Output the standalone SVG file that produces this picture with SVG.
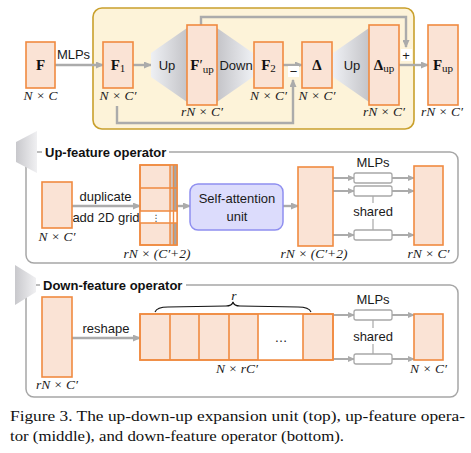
<svg xmlns="http://www.w3.org/2000/svg" width="471" height="453" viewBox="0 0 471 453">
<style>
.box{fill:#fae3d5;stroke:#f08a40;stroke-width:1.6}
.mlp{fill:#ffffff;stroke:#a8a8a8;stroke-width:1.3}
.arr{fill:none;stroke:#ababab;stroke-width:2.4;marker-end:url(#ah)}
.arr2{fill:none;stroke:#ababab;stroke-width:2;marker-end:url(#ah2)}
.thin{fill:none;stroke:#a8a8a8;stroke-width:1.2}
.panel{fill:#ffffff;stroke:#a6a6a6;stroke-width:1.5}
.sans{font-family:"Liberation Sans",Arial,sans-serif;font-size:13px;fill:#1a1a1a}
.title{font-family:"Liberation Sans",Arial,sans-serif;font-size:13px;font-weight:bold;fill:#111}
.math{font-family:"Liberation Serif","Times New Roman",serif;font-size:13.5px;font-style:italic;fill:#1a1a1a}
.bf{font-family:"Liberation Serif","Times New Roman",serif;font-size:15px;font-weight:bold;fill:#111}
.sub{font-family:"Liberation Serif","Times New Roman",serif;font-size:11px;font-weight:normal;font-style:normal}
.cap{font-family:"Liberation Serif","Times New Roman",serif;font-size:15px;fill:#111}
</style>
<defs>
<marker id="ah" markerUnits="userSpaceOnUse" markerWidth="8" markerHeight="7" refX="7" refY="3.5" orient="auto"><path d="M0,0 L8,3.5 L0,7 z" fill="#ababab"/></marker>
<marker id="ah2" markerUnits="userSpaceOnUse" markerWidth="7" markerHeight="6" refX="6" refY="3" orient="auto"><path d="M0,0 L7,3 L0,6 z" fill="#ababab"/></marker>
<linearGradient id="gUp" x1="0" y1="0" x2="1" y2="0"><stop offset="0" stop-color="#eef0f4"/><stop offset="1" stop-color="#c4c4c8"/></linearGradient>
<linearGradient id="gDown" x1="0" y1="0" x2="1" y2="0"><stop offset="0" stop-color="#c4c4c8"/><stop offset="1" stop-color="#eef0f4"/></linearGradient>
<linearGradient id="gIcon" x1="0" y1="0" x2="1" y2="0"><stop offset="0" stop-color="#c8c8cc"/><stop offset="1" stop-color="#f0f0f2"/></linearGradient>
</defs>

<!-- ===== Top: up-down-up expansion unit ===== -->
<rect x="93" y="8" width="321" height="121" rx="9" fill="#fdf3d9" stroke="#c9a02c" stroke-width="1.6"/>

<g id="connectors-top">
<path class="arr" d="M55,65 H103"/>
<path class="arr" d="M133,65 H151"/>
<path class="arr" d="M283,65 H302"/>
<path class="arr" d="M399,65 H428"/>
<path class="arr" d="M201,25 V17 H406 V47"/>
<path class="arr" d="M117,106 V123 H293 V80"/>
<rect x="401" y="49" width="11" height="12" fill="#ffffff"/>
<text x="406" y="60" text-anchor="middle" class="sans" font-size="14">+</text>
<rect x="288" y="66" width="11" height="11" fill="#ffffff"/>
<text x="293.5" y="76" text-anchor="middle" class="sans" font-size="14">−</text>
<text x="73.5" y="59" text-anchor="middle" class="sans">MLPs</text>
</g>

<g id="up1"><polygon points="151,53 187,28 187,102 151,77" fill="url(#gUp)"/><text x="167" y="70" text-anchor="middle" class="sans">Up</text></g>
<g id="down1"><polygon points="217,28 253,53 253,77 217,102" fill="url(#gDown)"/><text x="236" y="70" text-anchor="middle" class="sans">Down</text></g>
<g id="up2"><polygon points="333,53 369,28 369,102 333,77" fill="url(#gUp)"/><text x="352" y="70" text-anchor="middle" class="sans">Up</text></g>

<g id="nodeF"><rect class="box" x="26" y="42" width="29" height="46"/><text x="40.5" y="70" text-anchor="middle" class="bf">F</text><text x="40.5" y="100" text-anchor="middle" class="math">N × C</text></g>
<g id="nodeF1"><rect class="box" x="103" y="42" width="30" height="46"/><text x="118" y="70" text-anchor="middle" class="bf">F<tspan class="sub" dy="2">1</tspan></text><text x="118" y="100" text-anchor="middle" class="math">N × C′</text></g>
<g id="nodeFup1"><rect class="box" x="187" y="25" width="30" height="80"/><text x="202" y="70" text-anchor="middle" class="bf">F<tspan font-weight="normal">′</tspan><tspan class="sub" dy="3">up</tspan></text><text x="202" y="116" text-anchor="middle" class="math">rN × C′</text></g>
<g id="nodeF2"><rect class="box" x="254" y="42" width="29" height="46"/><text x="268.5" y="70" text-anchor="middle" class="bf">F<tspan class="sub" dy="2">2</tspan></text><text x="268.5" y="100" text-anchor="middle" class="math">N × C′</text></g>
<g id="nodeDelta"><rect class="box" x="302" y="42" width="30" height="46"/><text x="317" y="70" text-anchor="middle" class="bf">Δ</text><text x="317" y="100" text-anchor="middle" class="math">N × C′</text></g>
<g id="nodeDeltaUp"><rect class="box" x="369" y="25" width="30" height="80"/><text x="384" y="70" text-anchor="middle" class="bf">Δ<tspan class="sub" dy="2">up</tspan></text><text x="384" y="116" text-anchor="middle" class="math">rN × C′</text></g>
<g id="nodeFup"><rect class="box" x="428" y="25" width="30" height="80"/><text x="443" y="70" text-anchor="middle" class="bf">F<tspan class="sub" dy="2">up</tspan></text><text x="442" y="116" text-anchor="middle" class="math">rN × C′</text></g>

<!-- ===== Middle: up-feature operator ===== -->
<rect class="panel" x="26" y="152" width="432" height="111" rx="8"/>
<polygon points="16,142 37,131 37,173 16,162" fill="url(#gIcon)"/>
<rect x="42" y="144" width="127" height="16" fill="#ffffff"/>
<text x="45" y="157" class="title">Up-feature operator</text>

<g id="connectors-mid">
<path class="arr" d="M72,206 H140"/>
<path class="arr" d="M177,206 H190"/>
<path class="arr" d="M283,206 H298"/>
<path class="arr2" d="M333,178 H354"/>
<path class="arr2" d="M333,191 H354"/>
<path class="arr2" d="M333,235 H354"/>
<path class="arr2" d="M392,178 H414"/>
<path class="arr2" d="M392,191 H414"/>
<path class="arr2" d="M392,235 H414"/>
<path class="thin" d="M373,196 V203 M373,219 V230"/>
<text x="105.5" y="201" text-anchor="middle" class="sans">duplicate</text>
<text x="106" y="222" text-anchor="middle" class="sans">add 2D grid</text>
<text x="373" y="167" text-anchor="middle" class="sans">MLPs</text>
<text x="373" y="216" text-anchor="middle" class="sans">shared</text>
</g>

<g id="nodeIn"><rect class="box" x="42" y="182" width="30" height="46"/><text x="57" y="241" text-anchor="middle" class="math">N × C′</text></g>
<g id="nodeStack">
<rect class="box" x="140" y="165" width="37" height="80"/>
<rect x="140" y="211" width="37" height="12" fill="#ffffff"/>
<rect x="170" y="165" width="3.5" height="46" fill="#d2c6c0"/><rect x="173.5" y="165" width="3.5" height="46" fill="#a6a6a6"/>
<rect x="170" y="223" width="3.5" height="22" fill="#d2c6c0"/><rect x="173.5" y="223" width="3.5" height="22" fill="#a6a6a6"/>
<path d="M140,165 H177 V245 H140 Z M140,188 H177 M140,211 H177 M140,223 H177 M170,165 V245 M173.5,165 V245" fill="none" stroke="#f08a40" stroke-width="1.4"/>
<text x="156" y="221" text-anchor="middle" font-family="DejaVu Sans,sans-serif" font-size="9" fill="#333">⋮</text>
<text x="157" y="258" text-anchor="middle" class="math">rN × (C′+2)</text>
</g>
<g id="nodeSA"><rect x="190" y="184" width="93" height="46" rx="8" fill="#dcdcfc" stroke="#8f8ff0" stroke-width="1.5"/><text x="237" y="203" text-anchor="middle" class="sans" font-size="13.5">Self-attention</text><text x="237" y="221" text-anchor="middle" class="sans" font-size="13.5">unit</text></g>
<g id="nodeMid"><rect class="box" x="298" y="167" width="35" height="79"/><text x="314" y="258" text-anchor="middle" class="math">rN × (C′+2)</text></g>
<g id="mlpA1"><rect class="mlp" x="354" y="173" width="38" height="10" rx="2"/></g>
<g id="mlpA2"><rect class="mlp" x="354" y="186" width="38" height="10" rx="2"/></g>
<g id="mlpA3"><rect class="mlp" x="354" y="230" width="38" height="10" rx="2"/></g>
<g id="nodeOutMid"><rect class="box" x="414" y="166" width="29" height="79"/><text x="428.5" y="258" text-anchor="middle" class="math">rN × C′</text></g>

<!-- ===== Bottom: down-feature operator ===== -->
<rect class="panel" x="26" y="285" width="432" height="112" rx="8"/>
<polygon points="15,265 36,278 36,292 15,305" fill="url(#gIcon)"/>
<rect x="40" y="277" width="146" height="16" fill="#ffffff"/>
<text x="43" y="290" class="title">Down-feature operator</text>

<g id="connectors-bot">
<path class="arr" d="M72,338 H140"/>
<path class="arr2" d="M333,315 H354"/>
<path class="arr2" d="M333,359 H354"/>
<path class="arr2" d="M392,315 H414"/>
<path class="arr2" d="M392,359 H414"/>
<path class="thin" d="M373,320 V328 M373,344 V354"/>
<text x="106" y="333" text-anchor="middle" class="sans">reshape</text>
<text x="373" y="304" text-anchor="middle" class="sans">MLPs</text>
<text x="373" y="341" text-anchor="middle" class="sans">shared</text>
</g>

<g id="nodeTall"><rect class="box" x="42" y="297" width="30" height="80"/><text x="57" y="389" text-anchor="middle" class="math">rN × C′</text></g>
<g id="nodeRow">
<rect class="box" x="140" y="314" width="193" height="46"/>
<rect x="258" y="314" width="45" height="46" fill="#ffffff"/>
<path d="M140,314 H333 V360 H140 Z M170,314 V360 M199,314 V360 M229,314 V360 M258,314 V360 M303,314 V360" fill="none" stroke="#f08a40" stroke-width="1.6"/>
<text x="281" y="342" text-anchor="middle" class="sans">…</text>
<path d="M155,312 Q157,307 168,307 L226,306 Q232,306 233,302 Q234,306 240,306 L298,307 Q309,307 311,312" fill="none" stroke="#111" stroke-width="1.1"/>
<text x="234" y="300" text-anchor="middle" class="math">r</text>
<text x="237" y="373" text-anchor="middle" class="math">N × rC′</text>
</g>
<g id="mlpB1"><rect class="mlp" x="354" y="310" width="38" height="10" rx="2"/></g>
<g id="mlpB2"><rect class="mlp" x="354" y="354" width="38" height="10" rx="2"/></g>
<g id="nodeOutBot"><rect class="box" x="414" y="314" width="29" height="46"/><text x="428.5" y="373" text-anchor="middle" class="math">N × C′</text></g>

<!-- caption -->
<text x="10" y="421" class="cap" textLength="455" lengthAdjust="spacingAndGlyphs">Figure 3. The up-down-up expansion unit (top), up-feature opera-</text>
<text x="10" y="441" class="cap" textLength="334" lengthAdjust="spacingAndGlyphs">tor (middle), and down-feature operator (bottom).</text>
</svg>
